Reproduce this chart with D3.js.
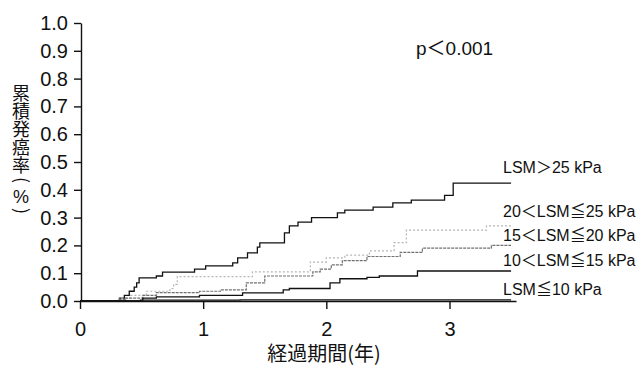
<!DOCTYPE html>
<html lang="ja">

<head>
    <meta charset="UTF-8">
    <title>累積発癌率</title>
    <script src="https://d3js.org/d3.v7.min.js"></script>
    <style>
        html,
        body {
            margin: 0;
            padding: 0;
            background: #fff;
            overflow: hidden;
        }

        svg {
            display: block;
            font-family: "Liberation Sans", "Noto Sans CJK JP", sans-serif;
        }

        .axis path,
        .axis line {
            stroke: #111;
            stroke-width: 1.4px;
        }

        .axis text {
            font-size: 20px;
            fill: #111;
        }
    </style>
</head>

<body>
    <svg id="chart" width="639" height="366"></svg>

    <script>
        // follow-up time (years) and cumulative incidence for each LSM group
        const seriesNames = ["LSM＞25 kPa", "20＜LSM≦25 kPa", "15＜LSM≦20 kPa", "10＜LSM≦15 kPa", "LSM≦10 kPa"];

        const gt25Times = [0, 0.32, 0.36, 0.40, 0.44, 0.46, 0.48, 0.62, 0.67, 0.93, 1.02, 1.24, 1.28, 1.36, 1.44, 1.46, 1.66, 1.70, 1.77, 1.88, 2.09, 2.15, 2.38, 2.54, 2.69, 2.96, 3.03];
        const gt25Values = [0, 0.01, 0.02, 0.035, 0.05, 0.065, 0.083, 0.09, 0.104, 0.115, 0.126, 0.137, 0.155, 0.173, 0.194, 0.209, 0.245, 0.27, 0.284, 0.30, 0.317, 0.327, 0.338, 0.353, 0.363, 0.38, 0.424];

        const r20to25Times = [0, 0.32, 0.41, 0.54, 0.73, 0.76, 0.79, 1.40, 1.87, 2.00, 2.15, 2.35, 2.55, 2.65, 3.30];
        const r20to25Values = [0, 0.01, 0.02, 0.035, 0.045, 0.06, 0.088, 0.105, 0.14, 0.155, 0.165, 0.18, 0.21, 0.255, 0.27];

        const r15to20Times = [0, 0.31, 0.37, 0.51, 0.62, 0.97, 1.14, 1.35, 1.50, 1.89, 1.95, 2.04, 2.13, 2.33, 2.60, 2.78, 3.34];
        const r15to20Values = [0, 0.005, 0.01, 0.02, 0.03, 0.035, 0.04, 0.065, 0.09, 0.105, 0.115, 0.13, 0.145, 0.16, 0.175, 0.19, 0.20];

        const r10to15Times = [0, 0.51, 0.62, 0.97, 1.32, 1.65, 1.70, 2.03, 2.11, 2.33, 2.43, 2.74];
        const r10to15Values = [0, 0.01, 0.015, 0.02, 0.029, 0.04, 0.045, 0.065, 0.08, 0.085, 0.09, 0.108];

        const le10Times = [0, 0.49, 1.30];
        const le10Values = [0, 0.003, 0.004];

        const endTime = 3.5;
        const yTicks = [0, 0.1, 0.2, 0.3, 0.4, 0.5, 0.6, 0.7, 0.8, 0.9, 1.0];
        const xTicks = [0, 1, 2, 3];

        const series = [
            { name: seriesNames[0], times: gt25Times, values: gt25Values, color: "#111", dash: null, width: 1.3 },
            { name: seriesNames[1], times: r20to25Times, values: r20to25Values, color: "#b5b5b5", dash: "2,2", width: 1.2 },
            { name: seriesNames[2], times: r15to20Times, values: r15to20Values, color: "#707070", dash: "3,1", width: 1.2 },
            { name: seriesNames[3], times: r10to15Times, values: r10to15Values, color: "#111", dash: null, width: 1.3 },
            { name: seriesNames[4], times: le10Times, values: le10Values, color: "#111", dash: null, width: 1.3 }
        ];

        const svg = d3.select("#chart");

        const x = d3.scaleLinear().domain([0, 3.54]).range([80, 516]);
        const y = d3.scaleLinear().domain([0, 1]).range([301, 23]);

        // curves
        const line = d3.line()
            .x(d => x(d[0]))
            .y(d => y(d[1]))
            .curve(d3.curveStepAfter);

        series.forEach(s => {
            const pts = s.times.map((t, i) => [t, s.values[i]]);
            pts.push([endTime, s.values[s.values.length - 1]]);
            svg.append("path")
                .datum(pts)
                .attr("fill", "none")
                .attr("stroke", s.color)
                .attr("stroke-width", s.width)
                .attr("stroke-dasharray", s.dash)
                .attr("d", line);
        });

        // axes
        svg.append("g")
            .attr("class", "axis")
            .attr("transform", "translate(81,0)")
            .call(d3.axisLeft(y).tickValues(yTicks).tickFormat(d3.format(".1f")).tickSize(7).tickSizeOuter(0).tickPadding(6));

        svg.append("g")
            .attr("class", "axis")
            .attr("transform", "translate(0,301)")
            .call(d3.axisBottom(x).tickValues(xTicks).tickFormat(d3.format("d")).tickSize(8).tickSizeOuter(0).tickPadding(13));

        // axis titles
        svg.append("text")
            .attr("x", 324)
            .attr("y", 361)
            .attr("text-anchor", "middle")
            .attr("font-size", 20)
            .attr("font-family", "'Noto Sans CJK JP', sans-serif")
            .attr("fill", "#111")
            .text("経過期間(年)");

        // vertical y title: kanji stacked, parentheses turned, % upright
        const yTitle = svg.append("g")
            .attr("font-family", "'Noto Sans CJK JP', sans-serif")
            .attr("font-size", 18)
            .attr("fill", "#111");

        yTitle.append("text")
            .attr("x", 21)
            .attr("y", 84)
            .style("writing-mode", "vertical-rl")
            .text("累積発癌率");

        yTitle.append("text")
            .attr("transform", "translate(21,180) rotate(90)")
            .attr("dy", "0.35em")
            .attr("text-anchor", "middle")
            .text("(");

        yTitle.append("text")
            .attr("x", 21)
            .attr("y", 203)
            .attr("text-anchor", "middle")
            .attr("font-family", "'Liberation Sans', sans-serif")
            .text("%");

        yTitle.append("text")
            .attr("transform", "translate(21,211) rotate(90)")
            .attr("dy", "0.35em")
            .attr("text-anchor", "middle")
            .text(")");

        // p value
        svg.append("text")
            .attr("x", 416)
            .attr("y", 55)
            .attr("font-size", 19)
            .attr("fill", "#111")
            .text("p＜0.001");

        // group labels at the right end of each curve
        const labelBaselines = [173, 217, 241, 266, 295];
        svg.append("g")
            .selectAll("text")
            .data(series)
            .join("text")
            .attr("x", 503)
            .attr("y", (d, i) => labelBaselines[i])
            .attr("font-size", 16)
            .attr("fill", "#111")
            .text(d => d.name);
    </script>
</body>

</html>
